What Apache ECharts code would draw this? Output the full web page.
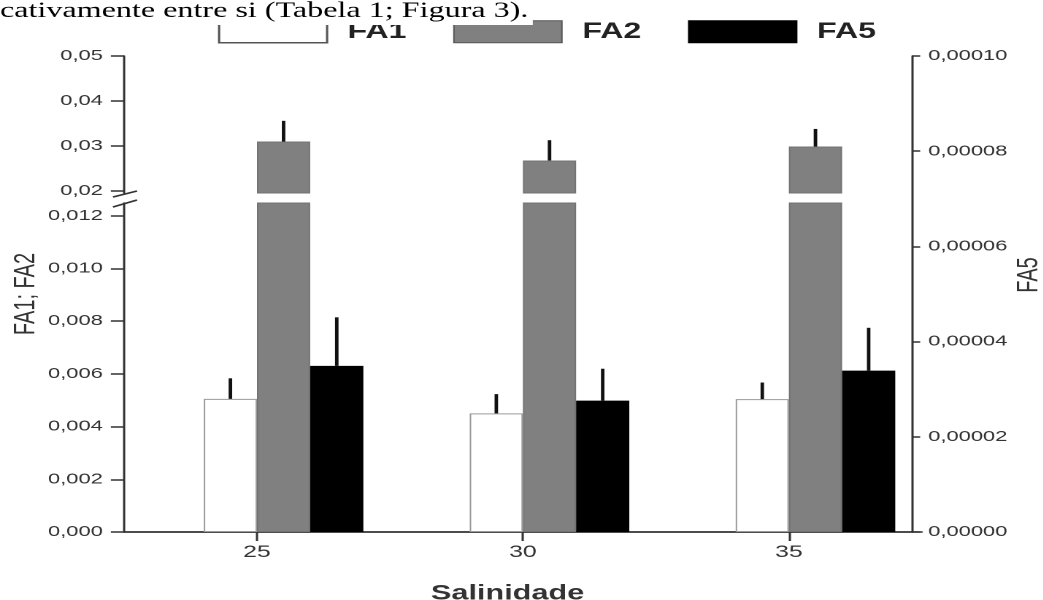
<!DOCTYPE html>
<html><head><meta charset="utf-8">
<script src="https://cdn.jsdelivr.net/npm/echarts@6/dist/echarts.min.js"></script>
<style>
html,body{margin:0;padding:0;background:#fff;overflow:hidden}
#wrap{width:1043px;height:600px;overflow:hidden;position:relative;background:#fff}
#chart{position:absolute;left:0;top:0;height:600px;transform-origin:0 0}
</style></head>
<body><div id="wrap"><div id="chart"></div></div>
<script>
// ---- data ----
const categories = ['25', '30', '35'];
const fa1 = [0.00505, 0.00450, 0.00504];
const fa1Err = [0.00078, 0.00073, 0.00063];
const fa2 = [0.0310, 0.0268, 0.0299];
const fa2Err = [0.0046, 0.0045, 0.0039];
const fa5 = [0.0000349, 0.0000276, 0.0000339];
const fa5Err = [0.0000102, 0.0000067, 0.0000090];
const lowerTicks = [0, 0.002, 0.004, 0.006, 0.008, 0.010, 0.012];
const upperTicks = [0.02, 0.03, 0.04, 0.05];
const rightTicks = [0, 0.00002, 0.00004, 0.00006, 0.00008, 0.0001];
const lowerRange = [0, 0.01248];
const upperRange = [0.01957, 0.05];
const rightRange = [0, 0.0001];

// ---- layout (source image is stretched horizontally) ----
const S = 1.46;
const W = 1043 / S;
const el = document.getElementById('chart');
el.style.width = W + 'px';
el.style.transform = 'scaleX(' + S + ')';
const X = v => v / S;
const FONT = 'Liberation Sans, Arial, sans-serif';
const AX = '#333';
const fmt = d => v => Number(v).toFixed(d).replace('.', ',');

const gridL = X(124), gridR = W - X(922.4), frameR = W - X(912.7);

const chart = echarts.init(el, null, {renderer: 'canvas', devicePixelRatio: 2});

const dummy = (xi, yi) => ({type: 'bar', xAxisIndex: xi, yAxisIndex: yi, data: [null, null, null],
  silent: true, barGap: '0%', barCategoryGap: '20%'});

function errSeries(xi, yi, vals, errs, slot) {
  return {
    type: 'custom', xAxisIndex: xi, yAxisIndex: yi, silent: true, z: 5,
    data: vals.map((v, i) => [i, v, v + errs[i]]),
    renderItem: (params, api) => {
      const i = api.value(0);
      const p0 = api.coord([i, api.value(1)]);
      const p1 = api.coord([i, api.value(2)]);
      const band = api.size([1, 0])[0];
      const w = band * 0.8 / 4;
      const x = p0[0] - 2 * w + (slot + 0.5) * w;
      return {type: 'line', shape: {x1: x, y1: p0[1], x2: x, y2: p1[1]},
        style: {stroke: '#111', lineWidth: 2.4}};
    }
  };
}

const axLine = {show: true, lineStyle: {color: AX, width: 1.5}};
const barBase = {barGap: '0%', barCategoryGap: '20%'};
const fa2Style = {color: '#808080', borderColor: '#737373', borderWidth: 1};

const option = {
  animation: false,
  backgroundColor: '#fff',
  textStyle: {fontFamily: FONT},
  title: {
    text: 'cativamente entre si (Tabela 1; Figura 3).',
    left: 0, top: 0, padding: [0, 3, 3, 0], backgroundColor: '#fff',
    textStyle: {fontFamily: 'Liberation Serif, Times New Roman, serif', fontSize: 22, fontWeight: 'normal', color: '#000'}
  },
  legend: {
    left: X(218), top: 20, padding: 0, itemWidth: X(108), itemHeight: 22, itemGap: 32,
    icon: 'rect', selectedMode: false,
    data: [
      {name: 'FA1', itemStyle: {color: '#fff', borderColor: '#555', borderWidth: 1.5}},
      {name: 'FA2', itemStyle: {color: '#808080', borderColor: '#555', borderWidth: 1}},
      {name: 'FA5', itemStyle: {color: '#000', borderColor: '#000', borderWidth: 1}}
    ],
    textStyle: {fontSize: 22, fontWeight: 'bold', color: '#222', padding: [0, 0, 0, 9], fontFamily: FONT}
  },
  grid: [
    {left: gridL, right: gridR, top: 203, bottom: 68, outerBoundsMode: 'none'},
    {left: gridL, right: gridR, top: 56, height: 137, outerBoundsMode: 'none'},
    {left: gridL, right: gridR, top: 56, bottom: 68, outerBoundsMode: 'none'},
    {left: gridL, right: frameR, top: 56, bottom: 68, outerBoundsMode: 'none'}
  ],
  xAxis: [
    {gridIndex: 0, type: 'category', data: categories, axisLine: axLine,
      axisTick: {show: true, alignWithLabel: true, length: 9, lineStyle: {color: AX, width: 1.5}},
      axisLabel: {color: '#333', fontSize: 17, margin: 12},
      name: 'Salinidade', nameLocation: 'middle', nameGap: 51, nameMoveOverlap: false,
      nameTextStyle: {fontWeight: 'bold', fontSize: 21, color: '#333', padding: [0, 21, 0, 0]}},
    {gridIndex: 1, type: 'category', data: categories, show: false},
    {gridIndex: 2, type: 'category', data: categories, show: false},
    {gridIndex: 3, type: 'category', data: categories, position: 'top', axisLine: axLine,
      axisTick: {show: false}, axisLabel: {show: false}}
  ],
  yAxis: [
    {gridIndex: 0, type: 'value', min: lowerRange[0], max: lowerRange[1], axisLine: axLine,
      axisTick: {show: true, length: 9, customValues: lowerTicks, lineStyle: {color: AX, width: 1.5}},
      axisLabel: {customValues: lowerTicks, formatter: fmt(3), color: '#333', fontSize: 15, margin: 14.5},
      splitLine: {show: false}},
    {gridIndex: 1, type: 'value', min: upperRange[0], max: upperRange[1], axisLine: axLine,
      axisTick: {show: true, length: 9, customValues: upperTicks, lineStyle: {color: AX, width: 1.5}},
      axisLabel: {customValues: upperTicks, formatter: fmt(2), color: '#333', fontSize: 15, margin: 14.5},
      splitLine: {show: false}},
    {gridIndex: 2, type: 'value', min: rightRange[0], max: rightRange[1], show: false, splitLine: {show: false}},
    {gridIndex: 3, type: 'value', position: 'left', min: 0, max: 1,
      axisLine: {show: false}, axisTick: {show: false}, axisLabel: {show: false}, splitLine: {show: false},
      name: 'FA1; FA2', nameLocation: 'middle', nameGap: 57, nameMoveOverlap: false,
      nameTextStyle: {fontSize: 20, color: '#333'}},
    {gridIndex: 3, type: 'value', position: 'right', min: rightRange[0], max: rightRange[1], axisLine: axLine,
      axisTick: {show: true, length: 5.5, customValues: rightTicks, lineStyle: {color: AX, width: 1.5}},
      axisLabel: {customValues: rightTicks, formatter: fmt(5), color: '#333', fontSize: 15, margin: 11},
      splitLine: {show: false},
      name: 'FA5', nameLocation: 'middle', nameGap: 70, nameMoveOverlap: false,
      nameTextStyle: {fontSize: 20, color: '#333', padding: [0, 0, 0, 38]}}
  ],
  graphic: [
    {type: 'line', silent: true, shape: {x1: X(113), y1: 197, x2: X(137), y2: 191}, style: {stroke: AX, lineWidth: 1.5}},
    {type: 'line', silent: true, shape: {x1: X(113), y1: 207, x2: X(137), y2: 200}, style: {stroke: AX, lineWidth: 1.5}}
  ],
  series: [
    dummy(0, 0),
    Object.assign({name: 'FA1', type: 'bar', xAxisIndex: 0, yAxisIndex: 0, data: fa1,
      itemStyle: {color: '#fff', borderColor: '#9a9a9a', borderWidth: 1}}, barBase),
    Object.assign({name: 'FA2', type: 'bar', xAxisIndex: 0, yAxisIndex: 0, data: fa2, itemStyle: fa2Style}, barBase),
    dummy(0, 0),
    dummy(1, 1), dummy(1, 1),
    Object.assign({name: 'FA2', type: 'bar', xAxisIndex: 1, yAxisIndex: 1, data: fa2, itemStyle: fa2Style}, barBase),
    dummy(1, 1),
    dummy(2, 2), dummy(2, 2), dummy(2, 2),
    Object.assign({name: 'FA5', type: 'bar', xAxisIndex: 2, yAxisIndex: 2, data: fa5,
      itemStyle: {color: '#000', borderColor: '#000', borderWidth: 1}}, barBase),
    errSeries(0, 0, fa1, fa1Err, 1),
    errSeries(1, 1, fa2, fa2Err, 2),
    errSeries(2, 2, fa5, fa5Err, 3)
  ]
};
chart.setOption(option);
</script>
</body></html>
